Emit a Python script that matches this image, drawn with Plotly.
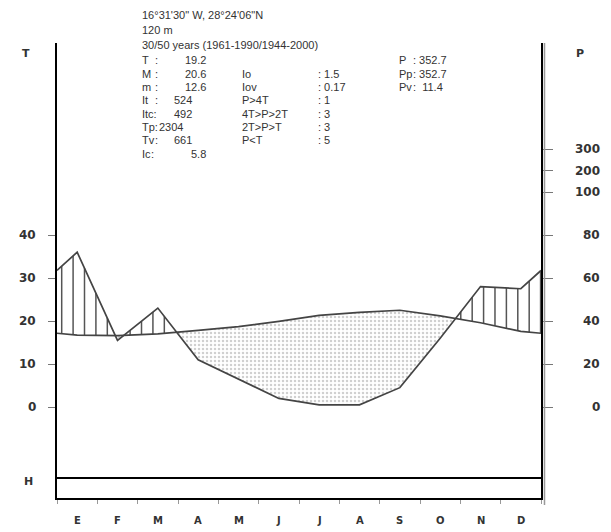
import numpy as np
import plotly.graph_objects as go

# ---- climate data (monthly means) ----
MONTHS = ["E", "F", "M", "A", "M", "J", "J", "A", "S", "O", "N", "D"]
TEMP = [16.7, 16.6, 17.0, 17.8, 18.7, 19.9, 21.3, 22.0, 22.5, 21.2, 19.6, 17.6]   # °C
PRECIP = [72, 31, 46, 22, 13, 4, 1, 1, 9, 32, 56, 55]                              # mm

T_TICKS = [0, 10, 20, 30, 40]
P_TICKS = [0, 20, 40, 60, 80, 100, 200, 300]

HEADER = ["16°31'30\" W, 28°24'06\"N", "120 m", "30/50 years (1961-1990/1944-2000)"]
STAT_LABELS_1 = ["T", "M", "m", "It", "Itc", "Tp", "Tv", "Ic"]
STAT_VALUES_1 = ["19.2", "20.6", "12.6", "524", "492", "2304", "661", "5.8"]
STAT_LABELS_2 = ["Io", "Iov", "P>4T", "4T>P>2T", "2T>P>T", "P<T"]
STAT_VALUES_2 = ["1.5", "0.17", "1", "3", "3", "5"]
STAT_LABELS_3 = ["P", "Pp", "Pv"]
STAT_VALUES_3 = ["352.7", "352.7", "11.4"]

# ---- page geometry ----
W, H = 611, 532
L, R, TOP, BOT = 57, 70, 43, 34
PLOT_W = W - L - R
PLOT_H = H - TOP - BOT
Y_MIN, Y_MAX = -21.16, 84.65   # temperature units (P drawn at P/2)


def px_x(x):
    return (x - L) / PLOT_W


def px_y(y):
    return (H - BOT - y) / PLOT_H


def p_to_y(p):
    """Walter-Lieth scale: 2 mm per °C up to 100 mm, compressed 10x above."""
    p = np.asarray(p, dtype=float)
    return np.where(p <= 100, p / 2.0, 50.0 + (p - 100.0) / 20.0)


# month centres plus wrap-around edge values
x_pts = [0.0] + [i + 0.5 for i in range(12)] + [12.0]
t_edge = (TEMP[0] + TEMP[-1]) / 2
p_edge = (PRECIP[0] + PRECIP[-1]) / 2
t_pts = [t_edge] + TEMP + [t_edge]
p_pts = list(p_to_y([p_edge] + PRECIP + [p_edge]))

xs = np.linspace(0, 12, 2401)
t_d = np.interp(xs, x_pts, t_pts)
p_d = np.interp(xs, x_pts, p_pts)

fig = go.Figure()

# dry period: stippled area between temperature and precipitation
low = np.minimum(p_d, t_d)
fig.add_trace(go.Scatter(
    x=np.concatenate([xs, xs[::-1]]),
    y=np.concatenate([t_d, low[::-1]]),
    mode="lines", line=dict(width=0), fill="toself",
    fillcolor="rgba(255,255,255,0)",
    fillpattern=dict(shape=".", size=4, solidity=0.3, fgcolor="#a0a0a0", bgcolor="white"),
    hoverinfo="skip", showlegend=False,
))

# humid period: vertical hatching between the curves
hx, hy = [], []
for xv in np.arange(0.1165, 12, 0.2827):
    tv = np.interp(xv, x_pts, t_pts)
    pv = np.interp(xv, x_pts, p_pts)
    if pv > tv + 0.2:
        hx += [xv, xv, None]
        hy += [tv, pv, None]
fig.add_trace(go.Scatter(x=hx, y=hy, mode="lines",
                         line=dict(color="#555", width=1.5),
                         hoverinfo="skip", showlegend=False))

# temperature and precipitation curves
fig.add_trace(go.Scatter(x=x_pts, y=t_pts, mode="lines",
                         line=dict(color="#444", width=1.7), showlegend=False))
fig.add_trace(go.Scatter(x=x_pts, y=p_pts, mode="lines",
                         line=dict(color="#444", width=1.7), showlegend=False))
# carrier for the right-hand axis
fig.add_trace(go.Scatter(x=[None], y=[None], yaxis="y2", showlegend=False))

ann = []
tick_font = dict(family="DejaVu Sans", size=12, color="#333", weight=700)
for v in T_TICKS:
    ann.append(dict(x=0, xref="paper", y=v, yref="y", text=str(v), showarrow=False,
                    xanchor="right", yanchor="middle", xshift=-19, font=tick_font))
for v in P_TICKS:
    ann.append(dict(x=1, xref="paper", y=float(p_to_y(v)), yref="y", text=str(v), showarrow=False,
                    xanchor="right", yanchor="middle", xshift=61, font=tick_font))
for i, m in enumerate(MONTHS):
    ann.append(dict(x=i + 0.5, xref="x", y=0, yref="paper", yshift=-22, text=m, showarrow=False,
                    xanchor="center", yanchor="middle",
                    font=dict(family="DejaVu Sans", size=10, color="#333", weight=700)))

big = dict(family="DejaVu Sans", size=11, color="#333", weight=700)
ann.append(dict(x=px_x(20), y=px_y(45), xref="paper", yref="paper", text="T", showarrow=False, font=big))
ann.append(dict(x=px_x(586), y=px_y(45), xref="paper", yref="paper", text="P", showarrow=False, font=big))
ann.append(dict(x=px_x(22), y=px_y(490), xref="paper", yref="paper", text="H", showarrow=False, font=big))

hf = dict(family="Liberation Sans", size=11, color="#333")


def text(x, y, s, anchor="left"):
    ann.append(dict(x=px_x(x), y=px_y(y), xref="paper", yref="paper", text=s, showarrow=False,
                    xanchor=anchor, yanchor="middle", font=hf))


for k, s in enumerate(HEADER):
    text(140, 15 + 15 * k, s)

row_y = [60, 73.5, 87, 100, 113.5, 127, 140, 153.5]
for k, (lab, val) in enumerate(zip(STAT_LABELS_1, STAT_VALUES_1)):
    y = row_y[k]
    if lab in ("Itc", "Tp"):
        text(140, y, lab + ":")
    else:
        text(140, y, lab)
        text(153 if lab != "Ic" else 149, y, ":")
    if lab in ("T", "M", "m", "Ic"):
        text(208, y, val, anchor="right")
    elif lab == "Tp":
        text(157, y, val)
    else:
        text(172, y, val)

for k, (lab, val) in enumerate(zip(STAT_LABELS_2, STAT_VALUES_2)):
    y = row_y[k + 1]
    text(240, y, lab.replace("<", "&lt;"))
    text(316, y, ": " + val)

for k, (lab, val) in enumerate(zip(STAT_LABELS_3, STAT_VALUES_3)):
    y = row_y[k]
    text(397, y, lab)
    text(411, y, ": " + val if lab != "Pv" else ":  " + val)

# frame: box under the plot and the outer P-axis line
shapes = [
    dict(type="line", xref="paper", yref="paper", x0=0, x1=1, y0=px_y(478), y1=px_y(478),
         line=dict(color="black", width=2)),
    dict(type="line", xref="paper", yref="paper", x0=px_x(544.5), x1=px_x(544.5),
         y0=px_y(505), y1=px_y(43), line=dict(color="#999", width=1.5)),
]

axis_common = dict(range=[Y_MIN, Y_MAX], showgrid=False, zeroline=False, showticklabels=False,
                   showline=True, linecolor="black", linewidth=2, ticks="outside",
                   tickcolor="#777", tickwidth=1)

fig.update_layout(
    width=W, height=H,
    margin=dict(l=L, r=R, t=TOP, b=BOT, pad=0),
    paper_bgcolor="white", plot_bgcolor="white",
    xaxis=dict(range=[0, 12], showgrid=False, zeroline=False, showline=True, linecolor="black",
               linewidth=2, ticks="outside", ticklen=4, tickcolor="#999", tickwidth=1,
               tickvals=list(range(13)), showticklabels=False),
    yaxis=dict(**axis_common, tickvals=T_TICKS, ticklen=7),
    yaxis2=dict(**axis_common, overlaying="y", side="right",
                tickvals=[float(v) for v in p_to_y(P_TICKS)], ticklen=10),
    annotations=ann, shapes=shapes, showlegend=False,
)

fig.write_html("out.html")
